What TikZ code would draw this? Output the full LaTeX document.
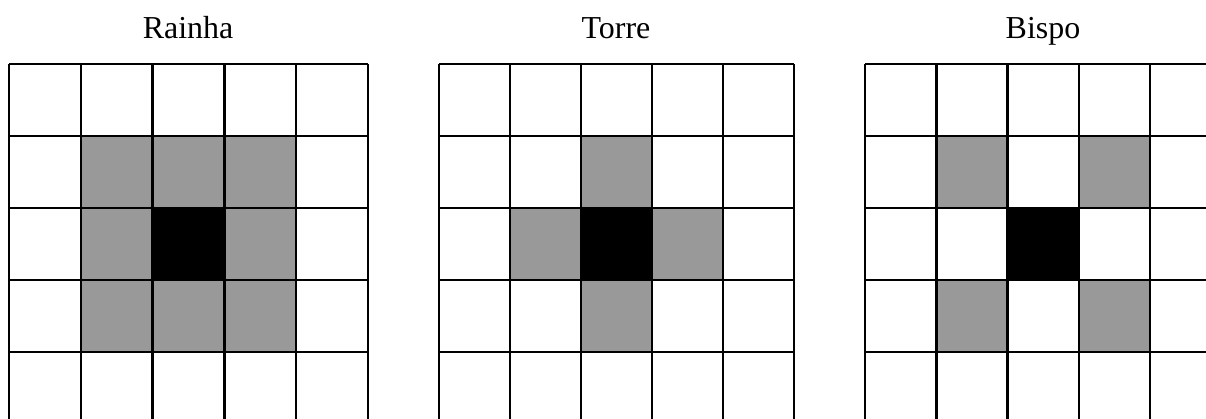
\documentclass[tikz,border=0pt]{standalone}
\usepackage{fontspec}
\setmainfont{Liberation Serif}
\usepackage{tikz}

\begin{document}
\begin{tikzpicture}[x=0.36pt,y=-0.36pt,
  every node/.style={font=\fontsize{11.5}{14}\selectfont},
  hit/.style={fill=black!40},
  piece/.style={fill=black},
  gridline/.style={line width=0.9pt}]
  \useasboundingbox (0,0) rectangle (1206,418);
  \clip (0,0) rectangle (1206,418);
  % titles
  \node[anchor=base] (rainha) at (188,38) {Rainha};
  \node[anchor=base] (torre)  at (616,38) {Torre};
  \node[anchor=base] (bispo)  at (1043,38) {Bispo};
  % Rainha: all neighbours
  \foreach \c/\r in {1/1,2/1,3/1,1/2,3/2,1/3,2/3,3/3}
    \fill[hit] ({9+\c*71.8},{64+\r*72}) rectangle ++(71.8,72);
  \fill[piece] ({9+2*71.8},{64+2*72}) rectangle ++(71.8,72);
  % Torre: straight neighbours
  \foreach \c/\r in {2/1,1/2,3/2,2/3}
    \fill[hit] ({439+\c*71},{64+\r*72}) rectangle ++(71,72);
  \fill[piece] ({439+2*71},{64+2*72}) rectangle ++(71,72);
  % Bispo: diagonal neighbours
  \foreach \c/\r in {1/1,3/1,1/3,3/3}
    \fill[hit] ({865+\c*71.25},{64+\r*72}) rectangle ++(71.25,72);
  \fill[piece] ({865+2*71.25},{64+2*72}) rectangle ++(71.25,72);
  % the three boards
  \foreach \gx/\w in {9/71.8,439/71,865/71.25}{
    \foreach \i in {0,...,5}
      \draw[gridline] ({\gx+\i*\w},64) -- ({\gx+\i*\w},424);
    \foreach \j in {0,...,4}
      \draw[gridline] (\gx,{64+\j*72}) -- ({\gx+5*\w},{64+\j*72});
  }
\end{tikzpicture}
\end{document}
